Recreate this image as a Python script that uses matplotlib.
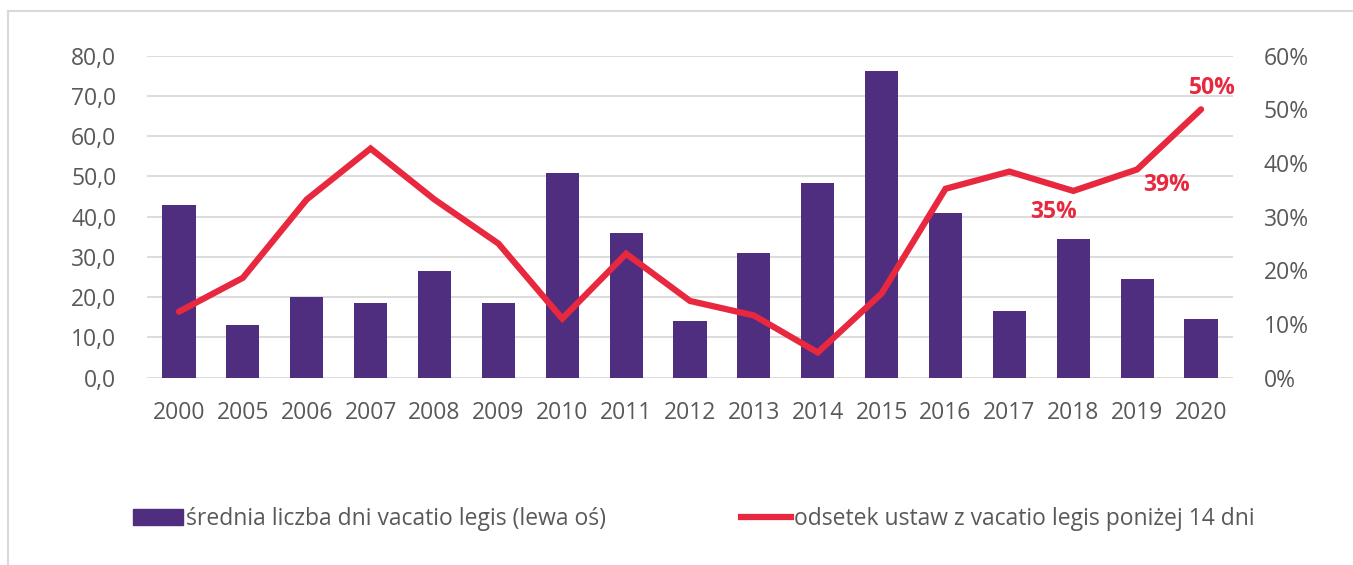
import matplotlib.pyplot as plt
from matplotlib.patches import Patch
from matplotlib.lines import Line2D

years = ["2000", "2005", "2006", "2007", "2008", "2009", "2010", "2011", "2012",
         "2013", "2014", "2015", "2016", "2017", "2018", "2019", "2020"]
avg_days = [42.8, 13.0, 20.0, 18.6, 26.4, 18.6, 50.8, 36.0, 14.2,
            31.0, 48.3, 76.2, 41.0, 16.5, 34.4, 24.6, 14.5]
share_below_14 = [12.3, 18.6, 33.2, 42.7, 33.2, 25.0, 11.0, 23.1, 14.3,
                  11.6, 4.7, 15.7, 35.2, 38.4, 34.8, 38.8, 50.0]
labelled = {14: "35%", 15: "39%", 16: "50%"}

purple = "#4F2D7F"
red = "#E8283F"
grey = "#595959"

plt.rcParams["font.family"] = ["Open Sans", "DejaVu Sans"]

fig = plt.figure(figsize=(13.53, 5.65), dpi=100)
ax = fig.add_axes([147 / 1353, 0.3315, (1233 - 147) / 1353, 0.570])
ax2 = ax.twinx()

x = list(range(len(years)))
ax.bar(x, avg_days, width=0.52, color=purple, zorder=2)
ax2.plot(x, share_below_14, color=red, lw=4.5, solid_capstyle="round",
         solid_joinstyle="miter", zorder=3)

ax.set_xlim(-0.5, len(years) - 0.5)
ax.set_ylim(0, 80)
ax2.set_ylim(0, 60)
ax.set_yticks(range(0, 81, 10))
ax.set_yticklabels([f"{v},0" for v in range(0, 81, 10)])
ax2.set_yticks(range(0, 61, 10))
ax2.set_yticklabels([f"{v}%" for v in range(0, 61, 10)])
ax.set_xticks(x)
ax.set_xticklabels(years)

ax.grid(axis="y", color="#D9D9D9", lw=1.3, zorder=0)
ax.set_axisbelow(True)
for a in (ax, ax2):
    for s in a.spines.values():
        s.set_visible(False)
    a.tick_params(length=0, labelsize=16.5, colors=grey)
ax.tick_params(axis="y", pad=22)
ax.tick_params(axis="x", pad=17)
ax2.tick_params(axis="y", pad=22)

offsets = {14: (-14, -15), 15: (21, -11), 16: (8, 15)}
for i, txt in labelled.items():
    ax2.annotate(txt, (x[i], share_below_14[i]), xytext=offsets[i],
                 textcoords="offset points", ha="center", va="center",
                 color=red, fontsize=16.5, fontweight="bold")

handles = [Patch(color=purple), Line2D([0], [0], color=red, lw=4.5)]
labels = ["średnia liczba dni vacatio legis (lewa oś)",
          "odsetek ustaw z vacatio legis poniżej 14 dni"]
fig.legend(handles, labels, loc="center left", bbox_to_anchor=(112 / 1353, 1 - 519 / 565),
           ncol=2, frameon=False, fontsize=16.5, labelcolor=grey,
           handlelength=2.2, handletextpad=0.15, columnspacing=5.85)

# light frame on the left and top
fig.add_artist(Line2D([8 / 1353, 8 / 1353], [0, 1 - 11 / 565], color="#D9D9D9", lw=1.5))
fig.add_artist(Line2D([8 / 1353, 1], [1 - 11 / 565, 1 - 11 / 565], color="#D9D9D9", lw=1.5))

fig.savefig("out.png", dpi=100)
